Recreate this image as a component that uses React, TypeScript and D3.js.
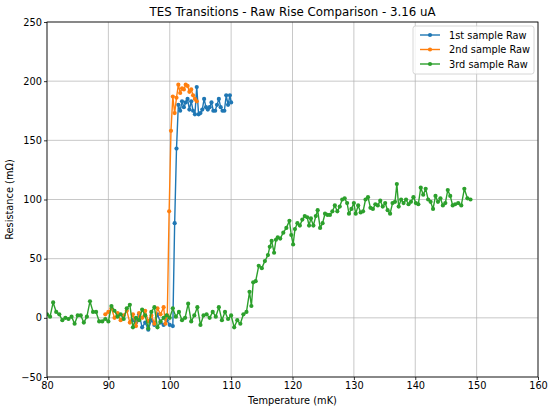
import React, { useEffect, useRef } from "react";
import * as d3 from "d3";

const xTicks = [80, 90, 100, 110, 120, 130, 140, 150, 160];
const yTicks = [-50, 0, 50, 100, 150, 200, 250];

const s1x = [94.0,94.5,95.0,95.5,96.0,96.5,97.0,97.5,98.0,98.5,99.0,99.5,100.0,100.5,100.8,101.1,101.4,101.7,102.0,102.3,102.6,102.9,103.2,103.5,103.8,104.1,104.4,104.7,105.0,105.3,105.6,105.9,106.2,106.5,106.8,107.1,107.4,107.7,108.0,108.3,108.6,108.9,109.2,109.5,109.8,110.0];
const s1y = [-2,-4,3,-8,-4,-10,-2,-6,3,-4,-6,-2,-6,-7,80,143,180,175,183,178,182,185,176,183,175,172,195,172,173,176,185,178,176,178,182,175,175,180,185,178,175,175,188,180,188,182];

const s2x = [89.5,90.0,90.5,91.0,91.5,92.0,92.5,93.0,93.5,94.0,94.5,95.0,95.5,96.0,96.5,97.0,97.5,98.0,98.5,99.0,99.3,99.6,99.9,100.2,100.5,100.8,101.1,101.4,101.7,102.0,102.3,102.6,102.9,103.2,103.5,103.8,104.1,104.4];
const s2y = [3,5,8,0,4,-2,2,6,-4,3,-7,4,0,6,-3,2,-5,8,3,9,-5,2,90,158,187,173,186,197,190,194,193,197,196,191,193,188,185,183];

const s3x = [80.0,80.5,81.0,81.5,82.0,82.5,83.0,83.5,84.0,84.5,85.0,85.5,86.0,86.5,87.0,87.5,88.0,88.5,89.0,89.5,90.0,90.5,91.0,91.5,92.0,92.5,93.0,93.5,94.0,94.5,95.0,95.5,96.0,96.5,97.0,97.5,98.0,98.5,99.0,99.5,100.0,100.5,101.0,101.5,102.0,102.5,103.0,103.5,104.0,104.5,105.0,105.5,106.0,106.5,107.0,107.5,108.0,108.5,109.0,109.5,110.0,110.5,111.0,111.5,112.0,112.5,113.0,113.3,113.6,114.0,114.5,115.0,115.5,116.0,116.3,116.6,117.0,117.3,117.6,118.0,118.5,119.0,119.5,119.8,120.1,120.4,120.8,121.2,121.6,122.0,122.4,122.7,123.0,123.4,123.8,124.1,124.5,124.9,125.3,125.7,126.1,126.5,126.9,127.3,127.7,128.1,128.5,128.9,129.2,129.6,130.0,130.3,130.7,131.1,131.5,131.9,132.3,132.7,133.1,133.5,133.9,134.3,134.7,135.1,135.5,135.9,136.3,136.7,137.0,137.3,137.7,138.1,138.5,138.9,139.3,139.7,140.1,140.5,140.9,141.3,141.7,142.1,142.5,142.9,143.3,143.7,144.1,144.5,144.9,145.3,145.7,146.1,146.5,147.0,147.5,148.0,148.5,149.0];
const s3y = [3,1,13,5,3,-2,0,-1,1,-5,2,2,-4,1,14,5,5,-3,-3,-1,-3,10,6,1,3,-1,8,11,-8,0,-2,7,2,-9,5,9,-8,-3,0,2,0,8,1,5,-2,0,12,-3,2,9,-6,2,3,0,5,1,9,-2,5,-1,2,-8,-2,-5,3,5,22,10,30,31,44,42,48,53,60,65,55,66,68,67,72,76,82,70,62,75,80,78,83,86,85,78,84,78,86,91,76,80,88,87,87,90,95,90,94,100,101,97,88,92,97,88,95,89,90,100,102,93,92,96,95,99,94,97,91,88,97,98,113,94,100,97,100,96,98,102,97,96,110,104,109,100,98,92,103,98,101,95,97,108,103,95,96,97,95,109,101,100];

const seriesNames = ["1st sample Raw", "2nd sample Raw", "3rd sample Raw"];
const colors = ["#1f77b4", "#ff7f0e", "#2ca02c"];

const W = 550, H = 411;
const M = { left: 47, right: 538, top: 22, bottom: 377 };
const FONT = "DejaVu Sans, sans-serif";
const FS = 9.8;

export default function App() {
  const ref = useRef<SVGSVGElement>(null);
  useEffect(() => {
    const svg = d3.select(ref.current);
    svg.selectAll("*").remove();
    const x = d3.scaleLinear().domain([80, 160]).range([M.left, M.right]);
    const y = d3.scaleLinear().domain([-50, 250]).range([M.bottom, M.top]);

    svg.append("rect").attr("width", W).attr("height", H).attr("fill", "#fff");

    const grid = svg.append("g");
    xTicks.forEach((t) => {
      grid.append("line").attr("x1", x(t)).attr("x2", x(t)).attr("y1", M.top).attr("y2", M.bottom)
        .attr("stroke", "#b0b0b0").attr("stroke-width", 0.7);
    });
    yTicks.forEach((t) => {
      grid.append("line").attr("y1", y(t)).attr("y2", y(t)).attr("x1", M.left).attr("x2", M.right)
        .attr("stroke", "#b0b0b0").attr("stroke-width", 0.7);
    });

    const clip = svg.append("clipPath").attr("id", "clip");
    clip.append("rect").attr("x", M.left).attr("y", M.top).attr("width", M.right - M.left).attr("height", M.bottom - M.top);

    const data = [
      s1x.map((v, i) => [v, s1y[i]]),
      s2x.map((v, i) => [v, s2y[i]]),
      s3x.map((v, i) => [v, s3y[i]]),
    ];
    const line = d3.line<number[]>().x((d) => x(d[0])).y((d) => y(d[1]));
    const plot = svg.append("g").attr("clip-path", "url(#clip)");
    data.forEach((ser, k) => {
      plot.append("path").attr("d", line(ser) as string).attr("fill", "none")
        .attr("stroke", colors[k]).attr("stroke-width", 1.4).attr("stroke-linejoin", "round");
      plot.selectAll(null).data(ser).enter().append("circle")
        .attr("cx", (d) => x(d[0])).attr("cy", (d) => y(d[1])).attr("r", 2.1)
        .attr("fill", colors[k]);
    });

    svg.append("rect").attr("x", M.left).attr("y", M.top).attr("width", M.right - M.left)
      .attr("height", M.bottom - M.top).attr("fill", "none").attr("stroke", "#000").attr("stroke-width", 0.8);

    const xa = svg.append("g").attr("transform", `translate(0,${M.bottom})`)
      .call(d3.axisBottom(x).tickValues(xTicks).tickSize(3).tickPadding(2).tickFormat(d3.format("d")));
    const ya = svg.append("g").attr("transform", `translate(${M.left},0)`)
      .call(d3.axisLeft(y).tickValues(yTicks).tickSize(3).tickPadding(2).tickFormat((d) => String(d).replace("-", "\u2212")));
    [xa, ya].forEach((a) => {
      a.select(".domain").remove();
      a.selectAll("text").attr("font-family", FONT).attr("font-size", FS).attr("fill", "#000");
      a.selectAll("line").attr("stroke", "#000").attr("stroke-width", 0.8);
    });

    svg.append("text").attr("x", (M.left + M.right) / 2).attr("y", 16).attr("text-anchor", "middle")
      .attr("font-family", FONT).attr("font-size", 11.8).text("TES Transitions - Raw Rise Comparison - 3.16 uA");
    svg.append("text").attr("x", (M.left + M.right) / 2).attr("y", 404).attr("text-anchor", "middle")
      .attr("font-family", FONT).attr("font-size", FS).text("Temperature (mK)");
    svg.append("text").attr("transform", `translate(13,${(M.top + M.bottom) / 2}) rotate(-90)`)
      .attr("text-anchor", "middle").attr("font-family", FONT).attr("font-size", FS).text("Resistance (mΩ)");

    const lg = svg.append("g");
    lg.append("rect").attr("x", 413).attr("y", 26).attr("width", 121).attr("height", 48).attr("rx", 2.5)
      .attr("fill", "#fff").attr("fill-opacity", 0.8).attr("stroke", "#cccccc").attr("stroke-width", 0.8);
    seriesNames.forEach((n, i) => {
      const yy = 35 + i * 14.5;
      lg.append("line").attr("x1", 420).attr("x2", 440).attr("y1", yy).attr("y2", yy)
        .attr("stroke", colors[i]).attr("stroke-width", 1.4);
      lg.append("circle").attr("cx", 430).attr("cy", yy).attr("r", 2.1).attr("fill", colors[i]);
      lg.append("text").attr("x", 449).attr("y", yy + 3.5).attr("font-family", FONT).attr("font-size", FS).text(n);
    });
  }, []);
  return <svg ref={ref} width={W} height={H} style={{ position: "absolute", left: 0, top: 0 }} />;
}
